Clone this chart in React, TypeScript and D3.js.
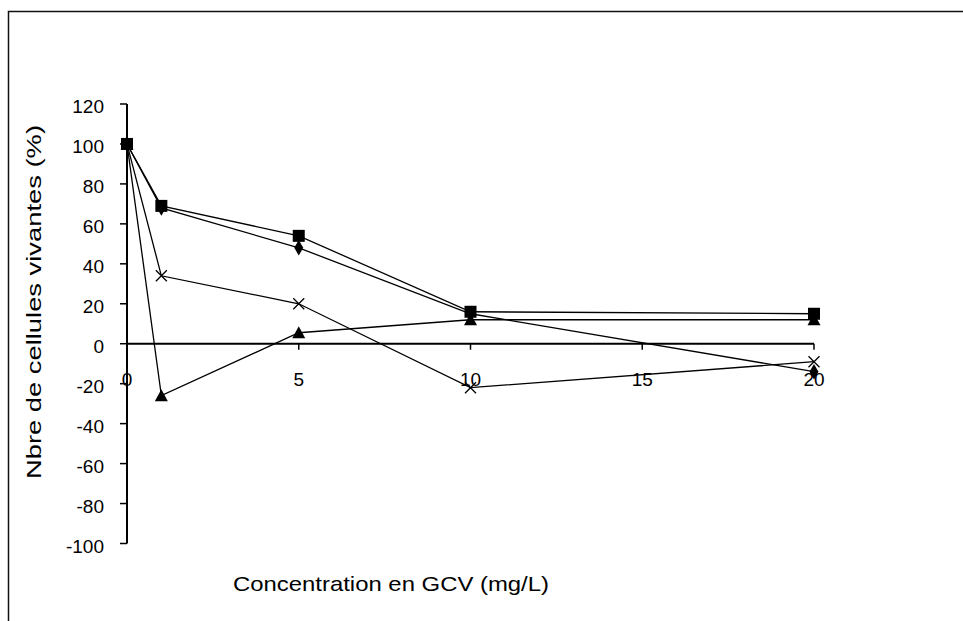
import React from "react";
import * as d3 from "d3";

const xValues = [0, 1, 5, 10, 20];
const seriesDiamond = [100, 68, 48, 15, -14];
const seriesSquare = [100, 69, 54, 16, 15];
const seriesTriangle = [100, -26, 5.5, 12, 12];
const seriesCross = [100, 34, 20, -22, -9];
const xTicks = [0, 5, 10, 15, 20];
const yTicks = [-100, -80, -60, -40, -20, 0, 20, 40, 60, 80, 100, 120];
const xTitle = "Concentration en GCV (mg/L)";
const yTitle = "Nbre de cellules vivantes (%)";

const W = 963;
const H = 621;
const FONT = "'Liberation Sans', Arial, sans-serif";

export default function App() {
  const x = d3.scaleLinear().domain([0, 20]).range([127, 814]);
  const y = d3.scaleLinear().domain([-100, 120]).range([543.5, 104]);
  const line = d3
    .line<number>()
    .x((_, i) => x(xValues[i]))
    .y((d) => y(d));

  const series = [
    { name: "diamond", values: seriesDiamond },
    { name: "square", values: seriesSquare },
    { name: "triangle", values: seriesTriangle },
    { name: "cross", values: seriesCross },
  ];

  const marker = (kind: string, cx: number, cy: number, key: string) => {
    if (kind === "square") {
      return <rect key={key} x={cx - 6} y={cy - 6} width={12} height={12} fill="#000" />;
    }
    if (kind === "diamond") {
      const s = d3.symbol().type(d3.symbolDiamond).size(70)();
      return <path key={key} d={s || ""} transform={`translate(${cx},${cy})`} fill="#000" />;
    }
    if (kind === "triangle") {
      return (
        <path
          key={key}
          d={`M${cx},${cy - 6.5}L${cx + 6.5},${cy + 5.5}L${cx - 6.5},${cy + 5.5}Z`}
          fill="#000"
        />
      );
    }
    return (
      <path
        key={key}
        d={`M${cx - 5.5},${cy - 5.5}L${cx + 5.5},${cy + 5.5}M${cx - 5.5},${cy + 5.5}L${cx + 5.5},${cy - 5.5}`}
        stroke="#000"
        strokeWidth={1.3}
        fill="none"
      />
    );
  };

  return (
    <svg
      width={W}
      height={H}
      style={{ position: "absolute", left: 0, top: 0, background: "#fff" }}
      fontFamily={FONT}
    >
      <rect x={0} y={0} width={W} height={H} fill="#fff" />
      <rect x={8.5} y={11.5} width={W + 20} height={H + 20} fill="none" stroke="#111" strokeWidth={1.5} />

      {/* y axis */}
      <line x1={x(0)} x2={x(0)} y1={y(120)} y2={y(-100)} stroke="#000" strokeWidth={2} />
      {yTicks.map((t) => (
        <g key={`yt${t}`}>
          <line x1={x(0) - 7} x2={x(0)} y1={y(t)} y2={y(t)} stroke="#000" strokeWidth={1.5} />
          <text x={104} y={y(t) + 9} textAnchor="end" fontSize={19} fill="#000">
            {t}
          </text>
        </g>
      ))}

      {/* x axis */}
      <line x1={x(0)} x2={x(20)} y1={y(0)} y2={y(0)} stroke="#000" strokeWidth={2} />
      {xTicks.map((t) => (
        <g key={`xt${t}`}>
          <line x1={x(t)} x2={x(t)} y1={y(0)} y2={y(0) + 6} stroke="#000" strokeWidth={1.5} />
          <text x={x(t)} y={y(0) + 42} textAnchor="middle" fontSize={19} fill="#000">
            {t}
          </text>
        </g>
      ))}

      {/* series */}
      {series.map((s) => (
        <g key={s.name}>
          <path d={line(s.values) || ""} fill="none" stroke="#000" strokeWidth={1.3} />
          {s.values.map((v, i) => marker(s.name, x(xValues[i]), y(v), `${s.name}${i}`))}
        </g>
      ))}

      {/* titles */}
      <text x={391} y={591} textAnchor="middle" fontSize={21} fill="#000" textLength={316} lengthAdjust="spacingAndGlyphs">
        {xTitle}
      </text>
      <text
        transform={`translate(41,302) rotate(-90)`}
        textAnchor="middle"
        fontSize={21}
        fill="#000"
        textLength={354}
        lengthAdjust="spacingAndGlyphs"
      >
        {yTitle}
      </text>
    </svg>
  );
}
